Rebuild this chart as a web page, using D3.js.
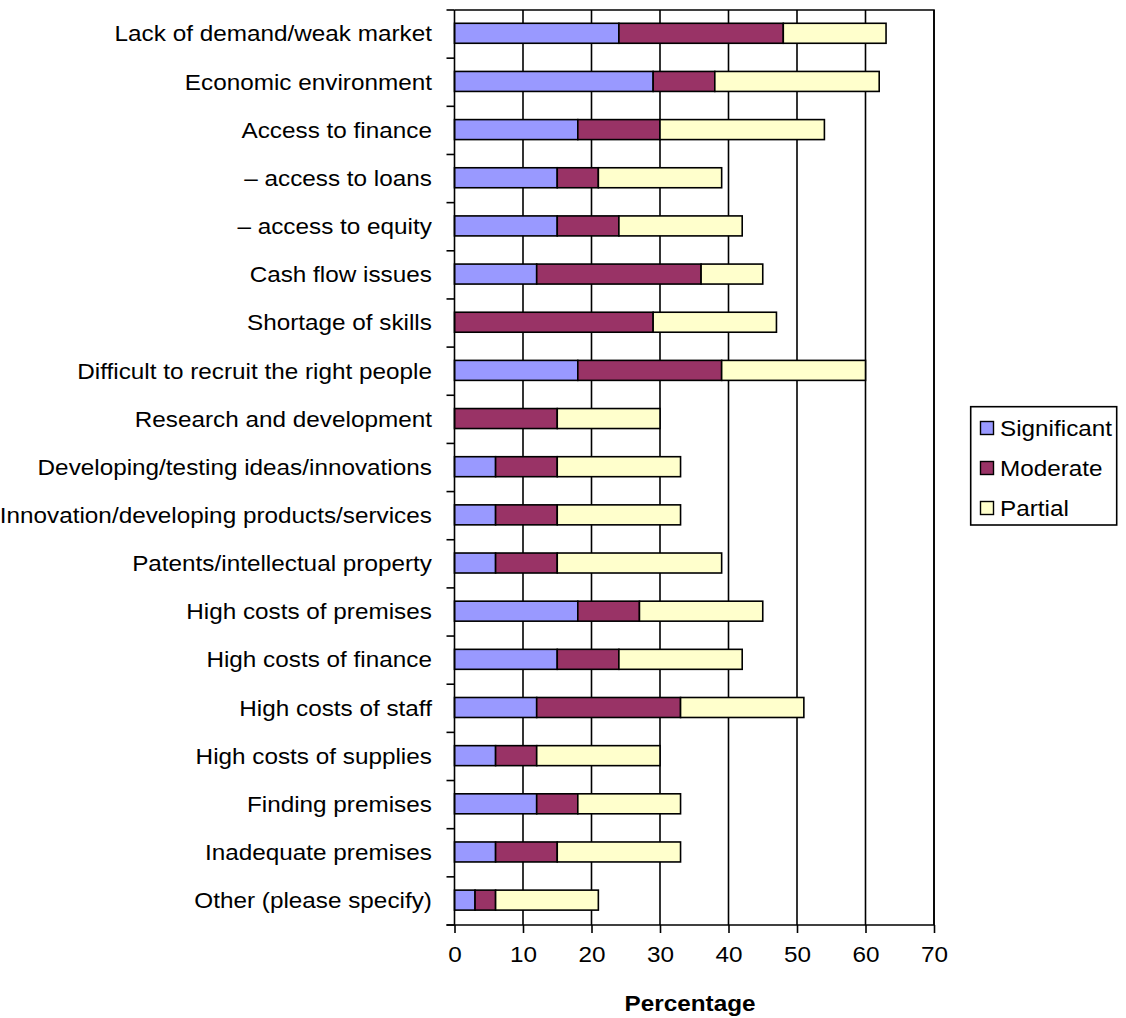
<!DOCTYPE html>
<html>
<head>
<meta charset="utf-8">
<script src="https://cdn.jsdelivr.net/npm/d3@7"></script>
<style>
  html, body { margin: 0; padding: 0; background: #fff; }
  svg { display: block; }
  text { font-family: Arial, "Liberation Sans", sans-serif; fill: #000; }
</style>
</head>
<body>
<svg id="chart" width="1126" height="1018"></svg>
<script>
// Barriers to growth, share of respondents by severity
const categories = [
  "Lack of demand/weak market",
  "Economic environment",
  "Access to finance",
  "– access to loans",
  "– access to equity",
  "Cash flow issues",
  "Shortage of skills",
  "Difficult to recruit the right people",
  "Research and development",
  "Developing/testing ideas/innovations",
  "Innovation/developing products/services",
  "Patents/intellectual property",
  "High costs of premises",
  "High costs of finance",
  "High costs of staff",
  "High costs of supplies",
  "Finding premises",
  "Inadequate premises",
  "Other (please specify)"
];
const significant = [24, 29, 18, 15, 15, 12, 0, 18, 0, 6, 6, 6, 18, 15, 12, 6, 12, 6, 3];
const moderate    = [24, 9, 12, 6, 9, 24, 29, 21, 15, 9, 9, 9, 9, 9, 21, 6, 6, 9, 3];
const partial     = [15, 24, 24, 18, 18, 9, 18, 21, 15, 18, 18, 24, 18, 18, 18, 18, 15, 18, 15];
const seriesNames = ["Significant", "Moderate", "Partial"];
const xTicks = [0, 10, 20, 30, 40, 50, 60, 70];
const axisTitle = "Percentage";

const colors = { Significant: "#9999FF", Moderate: "#993366", Partial: "#FFFFCC" };
const FS = 21.5;        // font size
const SX = 1.13;        // horizontal text stretch
const LW = 1.6;         // line width

const svg = d3.select("#chart");
const plot = { left: 454.5, right: 934, top: 10, bottom: 925 };

const x = d3.scaleLinear().domain([0, 70]).range([plot.left, plot.right]);
const y = d3.scaleBand().domain(categories).range([plot.top, plot.bottom]).padding(0);
const barH = y.bandwidth() * 0.415;

// table for stacking
const rows = categories.map((c, i) => ({
  category: c,
  Significant: significant[i],
  Moderate: moderate[i],
  Partial: partial[i]
}));
const stacked = d3.stack().keys(seriesNames)(rows);

// vertical gridlines
svg.append("g")
  .selectAll("line")
  .data(xTicks.slice(1))
  .join("line")
  .attr("x1", d => x(d)).attr("x2", d => x(d))
  .attr("y1", plot.top).attr("y2", plot.bottom)
  .attr("stroke", "#000").attr("stroke-width", LW);

// plot frame top and right
svg.append("path")
  .attr("d", `M${plot.left},${plot.top}H${plot.right}V${plot.bottom}`)
  .attr("fill", "none").attr("stroke", "#000").attr("stroke-width", LW);

// bars
svg.append("g")
  .selectAll("g")
  .data(stacked)
  .join("g")
  .attr("fill", d => colors[d.key])
  .selectAll("rect")
  .data(d => d.filter(s => s[1] - s[0] > 0))
  .join("rect")
  .attr("x", d => x(d[0]))
  .attr("width", d => x(d[1]) - x(d[0]))
  .attr("y", d => y(d.data.category) + (y.bandwidth() - barH) / 2 - 0.8)
  .attr("height", barH)
  .attr("stroke", "#000")
  .attr("stroke-width", LW);

// y axis with category labels
const yAxis = svg.append("g")
  .attr("transform", `translate(${plot.left},0)`)
  .call(d3.axisLeft(y).tickSize(0).tickPadding(20));
yAxis.select(".domain").remove();
yAxis.selectAll("text")
  .attr("font-size", FS)
  .attr("font-family", "Arial, 'Liberation Sans', sans-serif")
  .attr("dy", "0.34em")
  .attr("transform", `scale(${SX},1)`);

// y axis line and boundary ticks
svg.append("line")
  .attr("x1", plot.left).attr("x2", plot.left)
  .attr("y1", plot.top).attr("y2", plot.bottom)
  .attr("stroke", "#000").attr("stroke-width", LW);
const yStep = y.step();
svg.append("g")
  .selectAll("line")
  .data(d3.range(categories.length + 1))
  .join("line")
  .attr("x1", plot.left - 8).attr("x2", plot.left)
  .attr("y1", i => plot.top + i * yStep).attr("y2", i => plot.top + i * yStep)
  .attr("stroke", "#000").attr("stroke-width", LW);

// x axis
const xAxis = svg.append("g")
  .attr("transform", `translate(0,${plot.bottom})`)
  .call(d3.axisBottom(x).tickValues(xTicks).tickSize(8).tickSizeOuter(0).tickFormat(d3.format("d")));
xAxis.select(".domain")
  .attr("d", `M${plot.left - 8},0H${plot.right}`)
  .attr("stroke", "#000").attr("stroke-width", LW);
xAxis.selectAll(".tick line").attr("stroke", "#000").attr("stroke-width", LW);
xAxis.selectAll("text")
  .attr("font-size", FS)
  .attr("font-family", "Arial, 'Liberation Sans', sans-serif")
  .attr("y", 37).attr("dy", null)
  .attr("transform", `scale(${SX},1)`);

// axis title
svg.append("text")
  .attr("transform", `translate(690,1010.5) scale(${SX},1)`)
  .attr("text-anchor", "middle")
  .attr("font-size", FS)
  .attr("font-weight", "bold")
  .text(axisTitle);

// legend
const legend = svg.append("g");
legend.append("rect")
  .attr("x", 970.7).attr("y", 406.7)
  .attr("width", 146).attr("height", 118.3)
  .attr("fill", "#fff").attr("stroke", "#000").attr("stroke-width", LW);
const items = legend.selectAll("g.item")
  .data(seriesNames)
  .join("g")
  .attr("class", "item")
  .attr("transform", (d, i) => `translate(0,${428 + i * 40})`);
items.append("rect")
  .attr("x", 980.5).attr("y", -6.5)
  .attr("width", 13).attr("height", 13)
  .attr("fill", d => colors[d])
  .attr("stroke", "#000").attr("stroke-width", 1.4);
items.append("text")
  .attr("transform", `translate(1000,7.5) scale(${SX},1)`)
  .attr("font-size", FS)
  .text(d => d);
</script>
</body>
</html>
